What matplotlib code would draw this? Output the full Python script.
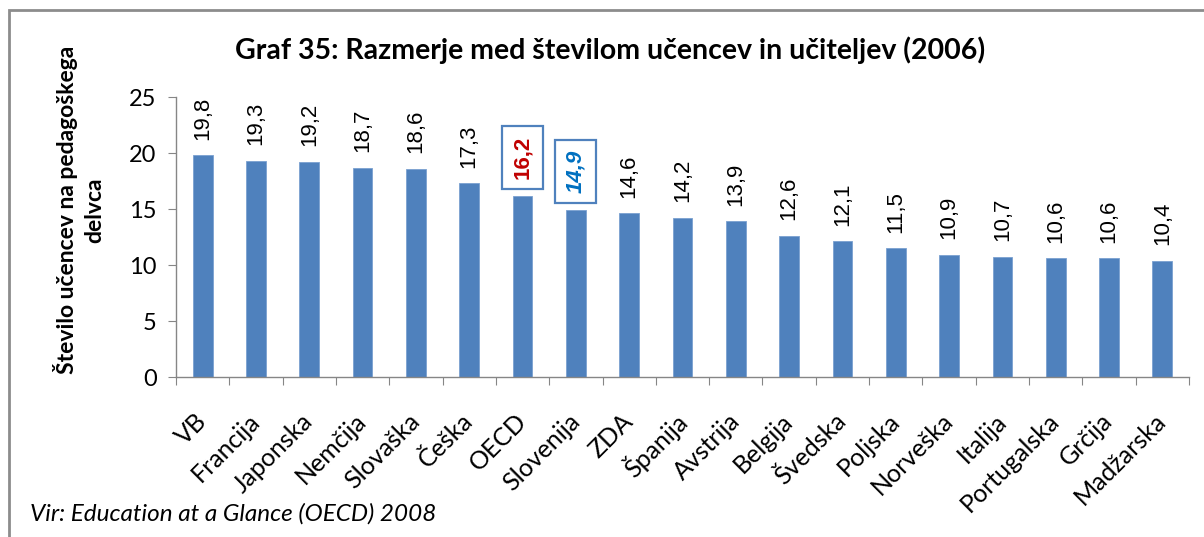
import matplotlib.pyplot as plt
from matplotlib.patches import Rectangle

countries = ['VB', 'Francija', 'Japonska', 'Nemčija', 'Slovaška', 'Češka', 'OECD',
             'Slovenija', 'ZDA', 'Španija', 'Avstrija', 'Belgija', 'Švedska', 'Poljska',
             'Norveška', 'Italija', 'Portugalska', 'Grčija', 'Madžarska']
ratios = [19.8, 19.3, 19.2, 18.7, 18.6, 17.3, 16.2, 14.9, 14.6, 14.2, 13.9, 12.6,
          12.1, 11.5, 10.9, 10.7, 10.6, 10.6, 10.4]
yticks = [0, 5, 10, 15, 20, 25]

plt.rcParams['font.family'] = ['Lato', 'DejaVu Sans']

fig = plt.figure(figsize=(12.04, 5.37), dpi=100)
ax = fig.add_axes([176 / 1204, 1 - 377 / 537, (1189 - 176) / 1204, (377 - 97) / 537])

x = range(len(countries))
ax.bar(x, ratios, width=0.37, color='#4f81bd', edgecolor='#7aa0d0', linewidth=0.6, zorder=2)

box = dict(boxstyle='square,pad=0.45', fc='white', ec='#4f81bd', lw=1.6)
for i, v in enumerate(ratios):
    txt = f'{v:.1f}'.replace('.', ',')
    name = countries[i]
    style = dict(rotation=90, ha='center', va='bottom', fontsize=16,
                 family='Liberation Sans')
    if name == 'OECD':
        ax.text(i, v + 1.5, txt, color='#c00000', fontweight='bold', bbox=box, **style)
    elif name == 'Slovenija':
        ax.text(i, v + 1.5, txt, color='#0070c0', fontweight='bold', fontstyle='italic',
                bbox=box, **style)
    else:
        ax.text(i, v + 1.4, txt, color='black', **style)

ax.set_xlim(-0.5, len(countries) - 0.5)
ax.set_ylim(0, 25)
ax.set_yticks(yticks)
ax.set_yticklabels([str(t) for t in yticks], fontsize=17)
ax.set_xticks([i - 0.5 for i in range(len(countries) + 1)], minor=False)
ax.set_xticklabels([])
ax.set_xticks(list(x), minor=True)
ax.set_xticklabels(countries, minor=True, rotation=45, ha='right', va='center',
                   rotation_mode='anchor', fontsize=18)
ax.tick_params(axis='x', which='major', length=6, color='#868686', direction='out')
ax.tick_params(axis='x', which='minor', length=0, pad=29)
ax.tick_params(axis='y', length=6, color='#868686', direction='out', pad=8)

for side in ['top', 'right']:
    ax.spines[side].set_visible(False)
for side in ['left', 'bottom']:
    ax.spines[side].set_color('#868686')
    ax.spines[side].set_linewidth(1)

fig.text(610 / 1204, 1 - 50 / 537, 'Graf 35: Razmerje med številom učencev in učiteljev (2006)',
         ha='center', va='center', fontsize=20.5, fontweight='bold')
fig.text(79 / 1204, 1 - 210 / 537, 'Število učencev na pedagoškega\ndelvca',
         ha='center', va='center', rotation=90, fontsize=16.5, fontweight='bold',
         linespacing=1.4)
fig.text(30 / 1204, 1 - 514 / 537, 'Vir: Education at a Glance (OECD) 2008',
         ha='left', va='center', fontsize=17.5, fontstyle='italic')

# outer frame of the chart area
fig.patches.append(Rectangle((9 / 1204, -0.05), 1.2, 1 - 10 / 537 + 0.05,
                             transform=fig.transFigure, fill=False, ec='#8c8c8c', lw=2))

fig.savefig('out.png', dpi=100)
